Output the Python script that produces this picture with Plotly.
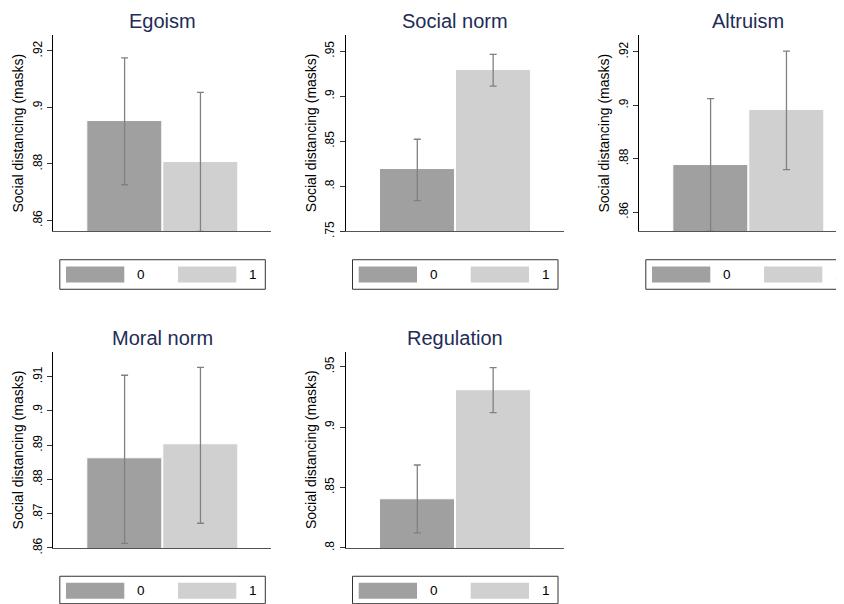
import plotly.graph_objects as go

# ---------------- data ----------------
panels = ["Egoism", "Social norm", "Altruism", "Moral norm", "Regulation"]
groups = ["0", "1"]
means = {
    "Egoism":      [0.8952, 0.8807],
    "Social norm": [0.8186, 0.9289],
    "Altruism":    [0.8777, 0.8984],
    "Moral norm":  [0.8861, 0.8903],
    "Regulation":  [0.8406, 0.9304],
}
ci_upper = {
    "Egoism":      [0.9175, 0.9053],
    "Social norm": [0.8522, 0.9463],
    "Altruism":    [0.9025, 0.9203],
    "Moral norm":  [0.9104, 0.9127],
    "Regulation":  [0.8686, 0.9492],
}
ci_lower = {
    "Egoism":      [0.8726, 0.8561],
    "Social norm": [0.7841, 0.9111],
    "Altruism":    [0.8529, 0.8759],
    "Moral norm":  [0.8613, 0.8672],
    "Regulation":  [0.8124, 0.9119],
}
y_ranges = {
    "Egoism":      [0.8561, 0.9256],
    "Social norm": [0.75, 0.9678],
    "Altruism":    [0.8528, 0.9263],
    "Moral norm":  [0.86, 0.9171],
    "Regulation":  [0.80, 0.9619],
}
tick_vals = {
    "Egoism":      [0.86, 0.88, 0.90, 0.92],
    "Social norm": [0.75, 0.80, 0.85, 0.90, 0.95],
    "Altruism":    [0.86, 0.88, 0.90, 0.92],
    "Moral norm":  [0.86, 0.87, 0.88, 0.89, 0.90, 0.91],
    "Regulation":  [0.80, 0.85, 0.90, 0.95],
}
tick_text = {
    "Egoism":      [".86", ".88", ".9", ".92"],
    "Social norm": [".75", ".8", ".85", ".9", ".95"],
    "Altruism":    [".86", ".88", ".9", ".92"],
    "Moral norm":  [".86", ".87", ".88", ".89", ".9", ".91"],
    "Regulation":  [".8", ".85", ".9", ".95"],
}
y_title = "Social distancing (masks)"

# ---------------- layout geometry (screen pixels) ----------------
W, H = 844, 604
OFF = 8          # page body margin offsets the figure
VIS_H = H - OFF  # visible height the figure ends up occupying
bar_colors = ["#a0a0a0", "#d0d0d0"]
title_color = "#1e2c57"
FONT = "Liberation Sans, Arial, Helvetica, sans-serif"

# left px of y-axis, right px, top px, bottom px (as seen on screen)
geom = {
    "Egoism":      (53.3, 271.0, 35.0, 231.0),
    "Social norm": (346.0, 564.0, 35.0, 231.0),
    "Altruism":    (639.3, 852.0, 35.0, 231.0),
    "Moral norm":  (53.3, 271.0, 351.7, 547.0),
    "Regulation":  (346.0, 564.0, 351.7, 547.0),
}
full_width = 217.7
x_full_range = [-0.94, 1.93]


def px(x):
    return (x - OFF) / W


def py(y):
    return 1 - (y - OFF) / VIS_H


fig = go.Figure()
layout = {}
annotations = []
shapes = []

for i, name in enumerate(panels):
    idx = "" if i == 0 else str(i + 1)
    x0, x1, y0, y1 = geom[name]
    span = x_full_range[1] - x_full_range[0]
    xr = [x_full_range[0], x_full_range[0] + span * (x1 - x0) / full_width]

    m = means[name]
    up = [u - v for u, v in zip(ci_upper[name], m)]
    lo = [v - l for l, v in zip(ci_lower[name], m)]
    fig.add_trace(go.Bar(
        x=[0, 1], y=m, width=0.99,
        marker=dict(color=bar_colors, line=dict(color="white", width=1)),
        error_y=dict(type="data", symmetric=False, array=up, arrayminus=lo,
                     color="#808080", thickness=1.3, width=3.5),
        xaxis="x" + idx, yaxis="y" + idx, showlegend=False,
        hoverinfo="skip",
    ))
    layout["xaxis" + idx] = dict(
        domain=[px(x0), min(1.0, px(x1))], range=xr, anchor="y" + idx,
        showline=True, linecolor="#555555", linewidth=1,
        showticklabels=False, ticks="", showgrid=False, zeroline=False,
        fixedrange=True,
    )
    layout["yaxis" + idx] = dict(
        domain=[py(y1), py(y0)], range=y_ranges[name], anchor="x" + idx,
        showline=True, linecolor="#000000", linewidth=1,
        ticks="outside", ticklen=5, tickcolor="#333333", tickwidth=1,
        tickvals=tick_vals[name], ticktext=tick_text[name], tickangle=-90,
        tickfont=dict(size=12, color="#000000", family=FONT),
        ticklabelstandoff=1,
        showgrid=False, zeroline=False, fixedrange=True,
    )

    # panel title (centered on the full panel width)
    cx = x0 + full_width / 2
    annotations.append(dict(
        text=name, x=px(cx), y=py(y0 - 14.5), xref="paper", yref="paper",
        xanchor="center", yanchor="middle", showarrow=False,
        font=dict(size=20, color=title_color, family=FONT),
    ))
    # y-axis title
    annotations.append(dict(
        text=y_title, x=px(x0 - 35), y=py((y0 + y1) / 2), xref="paper", yref="paper",
        xanchor="center", yanchor="middle", showarrow=False, textangle=-90,
        font=dict(size=14, color="#000000", family=FONT),
    ))

    # legend box
    if y0 < 100:
        by0, by1, sy0, sy1 = 259.3, 288.8, 266.0, 282.0
    else:
        by0, by1, sy0, sy1 = 575.3, 602.7, 581.7, 597.7
    shapes.append(dict(type="rect", xref="paper", yref="paper",
                       x0=px(x0 + 6.5), x1=px(x0 + 212.0), y0=py(by1), y1=py(by0),
                       line=dict(color="#333333", width=1), fillcolor="white",
                       layer="below"))
    sw = [(12.7, 71.0), (124.7, 183.0)]
    lab_x = [87.7, 199.7]
    for g in range(2):
        shapes.append(dict(type="rect", xref="paper", yref="paper",
                           x0=px(x0 + sw[g][0]), x1=px(x0 + sw[g][1]),
                           y0=py(sy1), y1=py(sy0),
                           line=dict(width=0), fillcolor=bar_colors[g]))
        annotations.append(dict(
            text=groups[g], x=px(x0 + lab_x[g]), y=py((sy0 + sy1) / 2),
            xref="paper", yref="paper", xanchor="center", yanchor="middle",
            showarrow=False, font=dict(size=13.5, color="#000000", family=FONT),
        ))

fig.update_layout(
    width=W, height=H,
    margin=dict(l=0, r=0, t=0, b=0),
    paper_bgcolor="white", plot_bgcolor="white",
    font=dict(family=FONT),
    annotations=annotations, shapes=shapes,
    showlegend=False, bargap=0,
    **layout,
)

fig.write_html("out.html")
